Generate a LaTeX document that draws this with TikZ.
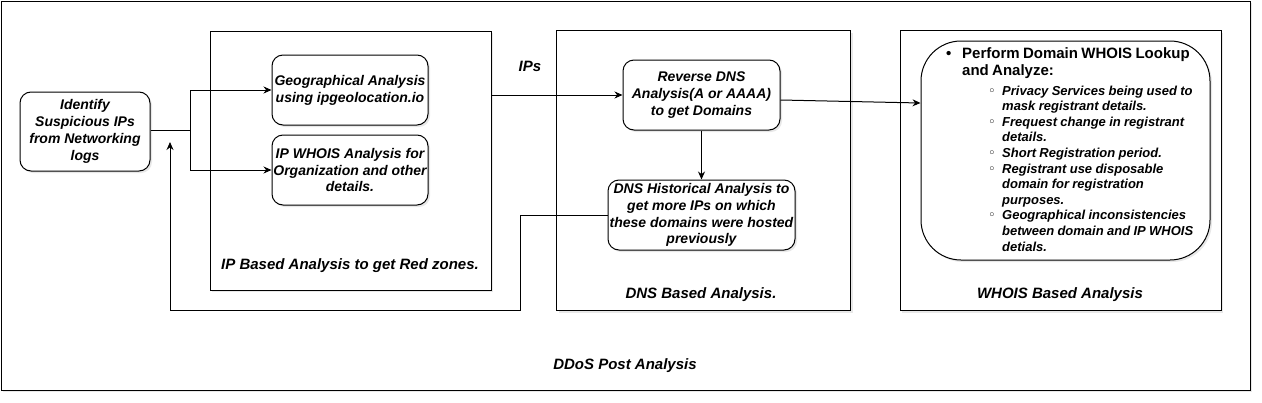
\documentclass[tikz,border=0pt]{standalone}
\usepackage{fontspec}
\setmainfont{Liberation Sans}
\newfontfamily\dejavu{DejaVu Sans}
\usetikzlibrary{arrows.meta,shadows}
\begin{document}
\begin{tikzpicture}[x=1pt,y=-1pt,
  shade/.style={drop shadow={opacity=0.18,shadow xshift=2pt,shadow yshift=-2pt}},
  box/.style={draw, line width=1pt, rounded corners=11pt, align=center, inner sep=0pt,
    fill=white, shade, font=\fontsize{14}{16.8}\selectfont\bfseries\itshape},
  frame/.style={draw, line width=1pt, fill=white, inner sep=0pt, shade},
  title/.style={font=\fontsize{15}{18}\selectfont\bfseries\itshape, inner sep=0pt},
  conn/.style={line width=1pt},
  arr/.style={conn, -{Stealth[length=8pt,width=7pt]}}
]
\useasboundingbox (0,0) rectangle (1262,402);

% containers
\node[frame, minimum width=1249pt, minimum height=389pt] (outer) at (625.5,195.5) {};
\node[frame, minimum width=281pt, minimum height=259pt] (ipbox) at (350.5,160.5) {};
\node[frame, minimum width=294pt, minimum height=280pt] (dnsbox) at (703.5,170.5) {};
\node[frame, minimum width=321pt, minimum height=280pt] (whbox) at (1060.5,170.5) {};

% titles
\node[title] (ddostitle) at (625,366) {DDoS Post Analysis};
\node[title] (iptitle) at (350,266) {IP Based Analysis to get Red zones.};
\node[title] (dnstitle) at (701,295) {DNS Based Analysis.};
\node[title] (whtitle) at (1060,295) {WHOIS Based Analysis};
\node[title] (ipslabel) at (530,66) {IPs};

% nodes
\node[box, minimum width=130pt, minimum height=79pt] (ident) at (85,131.5)
  {Identify\\Suspicious IPs\\from Networking\\logs};
\node[box, minimum width=156pt, minimum height=70pt] (geo) at (350,90)
  {Geographical Analysis\\using ipgeolocation.io};
\node[box, minimum width=156pt, minimum height=70pt] (ipw) at (350,170)
  {IP WHOIS Analysis for\\Organization and other\\details.};
\node[box, minimum width=157pt, minimum height=70pt] (rdns) at (701.5,95)
  {Reverse DNS\\Analysis(A or AAAA)\\to get Domains};
\node[box, minimum width=187pt, minimum height=70pt] (hist) at (701.5,215)
  {DNS Historical Analysis to\\get more IPs on which\\these domains were hosted\\previously};
\node[box, rounded corners=40pt, minimum width=289pt, minimum height=219pt] (whois) at (1065.5,150.5) {};
\node[anchor=north west, inner sep=0pt, text width=270pt, align=left] (wtext) at (946,47) {%
{\fontsize{15}{17}\selectfont\bfseries
\makebox[16pt][l]{•}Perform Domain WHOIS Lookup\\
\hspace*{16pt}and Analyze:\par}\vspace{4.5pt}%
{\fontsize{13}{15.6}\selectfont\bfseries\itshape
\hspace*{42pt}\makebox[14pt][l]{\dejavu\upshape\mdseries ◦}Privacy Services being used to\\
\hspace*{56pt}mask registrant details.\\
\hspace*{42pt}\makebox[14pt][l]{\dejavu\upshape\mdseries ◦}Frequest change in registrant\\
\hspace*{56pt}details.\\
\hspace*{42pt}\makebox[14pt][l]{\dejavu\upshape\mdseries ◦}Short Registration period.\\
\hspace*{42pt}\makebox[14pt][l]{\dejavu\upshape\mdseries ◦}Registrant use disposable\\
\hspace*{56pt}domain for registration\\
\hspace*{56pt}purposes.\\
\hspace*{42pt}\makebox[14pt][l]{\dejavu\upshape\mdseries ◦}Geographical inconsistencies\\
\hspace*{56pt}between domain and IP WHOIS\\
\hspace*{56pt}detials.\par}};

% connectors
\coordinate (split) at (190,130.5);
\draw[conn] (ident.east |- split) -- (split);
\draw[arr] (split) |- (geo.west);
\draw[arr] (split) |- (ipw.west);
\draw[arr] (ipbox.east |- rdns.west) -- (rdns.west);
\draw[arr] ([yshift=-5pt]rdns.east) -- (whois.west |- 0,103);
\draw[arr] (rdns.south) -- (hist.north);
\coordinate (fbcorner) at (520,310);
\coordinate (fbend) at (170,142);
\draw[arr] (hist.west) -| (fbcorner) -| (fbend);
\end{tikzpicture}
\end{document}
